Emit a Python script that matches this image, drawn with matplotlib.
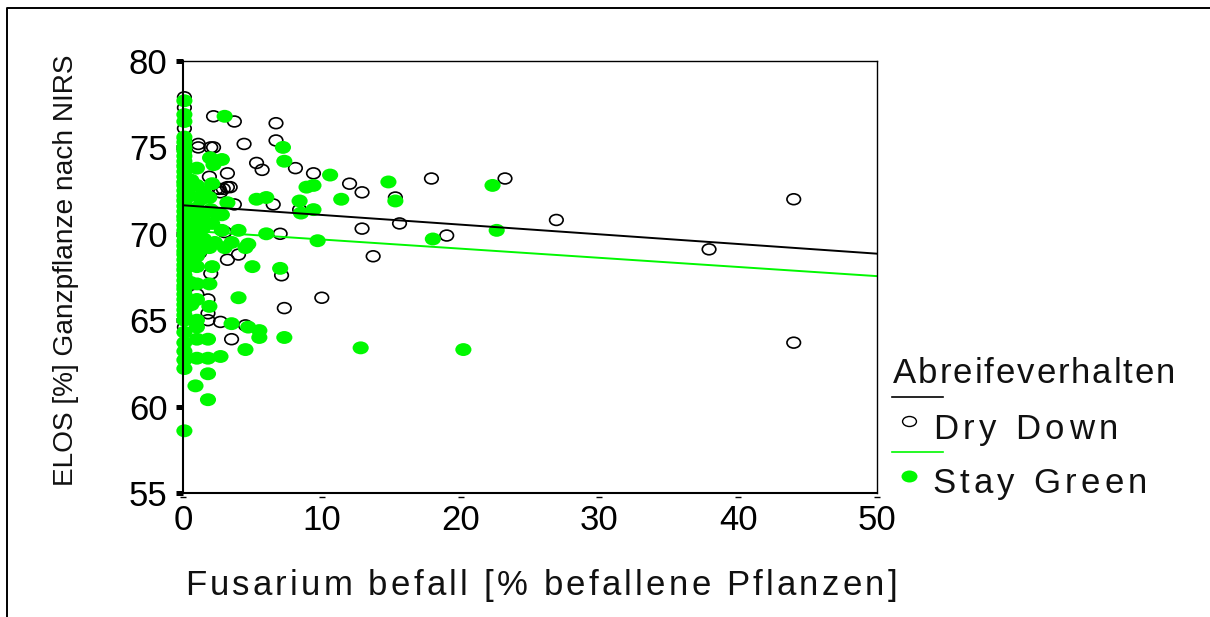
import matplotlib
matplotlib.use("Agg")
import matplotlib.pyplot as plt
from matplotlib.lines import Line2D
from matplotlib.markers import MarkerStyle
from matplotlib.path import Path
from matplotlib.text import Text
from matplotlib.transforms import Affine2D, ScaledTranslation

dry_x = [44.0, 44.0, 37.9, 26.9, 23.2, 19.0, 17.9, 15.6, 15.3, 13.7,
         12.9, 12.9, 12.0, 10.0, 9.4, 8.1, 8.4, 6.7, 6.7, 7.1,
         7.3, 6.5, 5.7, 5.3, 4.4, 3.7, 4.0, 3.5, 3.2, 3.4,
         3.2, 2.9, 2.6, 2.2, 2.2, 2.0, 1.1, 1.1, 3.7, 1.9,
         3.0, 7.0, 3.2, 2.7, 1.8, 1.8, 1.8, 4.5, 1.0, 2.0,
         1.2, 0.5, 2.4, 2.7]
dry_y = [72.0, 63.7, 69.1, 70.8, 73.2, 69.9, 73.2, 70.6, 72.1, 68.7,
         72.4, 70.3, 72.9, 66.3, 73.5, 73.8, 71.4, 76.4, 75.4, 67.6,
         65.7, 71.7, 73.7, 74.1, 75.2, 76.5, 68.8, 63.9, 73.5, 72.7,
         72.7, 72.6, 72.6, 76.8, 75.0, 75.0, 75.2, 75.0, 71.7, 73.3,
         70.1, 70.0, 68.5, 64.9, 66.2, 65.4, 65.0, 64.7, 66.5, 67.7,
         68.9, 71.0, 72.6, 72.4]
dry_column_y = [77.9, 77.3, 76.1, 75.5, 74.8, 74.0, 73.0, 72.0, 71.0, 69.5, 68.0, 64.6]

green_x = [22.3, 22.6, 20.2, 18.0, 15.3, 14.8, 12.8, 11.4, 10.6, 9.7,
           9.4, 9.4, 8.9, 8.5, 8.4, 7.3, 7.2, 7.0, 7.3, 6.0,
           6.0, 5.3, 5.5, 5.5, 4.5, 4.7, 5.0, 4.7, 4.5, 4.0,
           4.0, 3.5, 3.0, 2.8, 1.95, 2.2, 1.0, 2.1, 1.0, 1.9,
           3.2, 2.8, 2.1, 3.5, 3.0, 2.3, 2.1, 1.0, 1.0, 1.9,
           1.0, 1.9, 1.0, 1.0, 1.0, 1.8, 1.0, 1.8, 2.7, 1.8,
           0.9, 1.8, 1.0, 1.0, 1.0, 1.4, 1.4, 1.5, 1.2, 2.0,
           1.5, 2.4, 2.8, 1.0, 1.0, 1.9, 0.5, 0.5, 0.5, 0.5,
           0.5, 0.5, 0.6, 0.6, 1.3, 0.7]
green_y = [72.8, 70.2, 63.3, 69.7, 71.9, 73.0, 63.4, 72.0, 73.4, 69.6,
           71.4, 72.8, 72.7, 71.2, 71.9, 74.2, 75.0, 68.0, 64.0, 70.0,
           72.1, 72.0, 64.4, 64.0, 63.3, 64.6, 68.1, 69.4, 69.2, 70.2,
           66.3, 64.8, 76.8, 74.3, 74.4, 74.0, 73.8, 72.9, 72.8, 72.1,
           71.8, 71.1, 70.6, 69.5, 69.2, 69.5, 68.1, 68.1, 67.1, 67.1,
           66.2, 65.8, 64.6, 63.9, 62.8, 63.9, 69.3, 62.8, 62.9, 61.9,
           61.2, 60.4, 70.0, 70.7, 71.5, 70.3, 71.0, 69.7, 69.0, 71.4,
           72.4, 71.2, 70.2, 68.7, 65.0, 69.2, 70.2, 71.1, 69.4, 68.3,
           72.2, 67.2, 73.1, 65.9, 72.0, 70.6]
green_column_y = [58.6, 62.2, 62.7, 63.2, 63.7, 64.3, 65.0, 65.3, 65.6, 65.9, 66.2, 66.5,
                  66.8, 67.0, 67.3, 67.6, 67.9, 68.2, 68.5, 68.8, 69.0, 69.3, 69.6, 69.9,
                  70.2, 70.5, 70.8, 71.0, 71.3, 71.6, 71.9, 72.2, 72.5, 72.8, 73.0, 73.3,
                  73.6, 73.9, 74.2, 74.5, 74.8, 75.0, 75.3, 75.6, 76.5, 76.9, 77.7]
column_x = 0.1

line_x = [0, 50]
dry_line = [71.65, 68.85]
green_line = [70.2, 67.55]

x_ticks = [0, 10, 20, 30, 40, 50]
y_ticks = [55, 60, 65, 70, 75, 80]
x_label = "Fusarium befall [% befallene Pflanzen]"
y_label = "ELOS [%] Ganzpflanze nach NIRS"
legend_title = "Abreifeverhalten"
series_names = ["Dry Down", "Stay Green"]

GREEN = "#00F800"
W, H = 1210, 617
plt.rcParams["font.family"] = ["Liberation Sans"]
fig = plt.figure(figsize=(W / 100, H / 100), dpi=100)


class TrackedText(Text):
    """One real text whose glyphs are spread to fill a given pixel width."""

    def __init__(self, *args, target_width=None, **kwargs):
        super().__init__(*args, **kwargs)
        self.target_width = target_width

    def draw(self, renderer):
        text = self.get_text()
        fp = self.get_fontproperties()
        adv = lambda s: renderer.get_text_width_height_descent(s, fp, False)[0]
        gap = (self.target_width - adv(text)) / (len(text) - 1)
        x0, y0 = self.get_transform().transform(self.get_position())
        if renderer.flipy():
            y0 = renderer.get_canvas_width_height()[1] - y0
        gc = renderer.new_gc()
        gc.set_foreground(self.get_color())
        gc.set_antialiased(True)
        for i, ch in enumerate(text):
            if ch != " ":
                x = x0 + adv(text[:i + 1]) - adv(ch) + gap * i
                renderer.draw_text(gc, x, y0, ch, fp, 0, False)
        gc.restore()
        self.stale = False


def tracked(x_px, base_px, s, width_px):
    t = TrackedText(x_px / W, 1 - base_px / H, s, target_width=width_px, fontsize=25,
                    color="#111111", transform=fig.transFigure, figure=fig)
    fig.add_artist(t)
    return t


def ellipse(ratio):
    return MarkerStyle(Path.unit_circle().transformed(Affine2D().scale(1, ratio)))


fig.add_artist(Line2D([7/W, 7/W, 1], [0, 1-8/H, 1-8/H], color="black", lw=1.4))

ax = fig.add_axes([183/W, 1-493/H, (877-183)/W, (493-61)/H])
ax.set_xlim(0, 50)
ax.set_ylim(55, 80)
for s in ("top", "right"):
    ax.spines[s].set_linewidth(1.0)
for s in ("left", "bottom"):
    ax.spines[s].set_linewidth(1.5)
for s in ax.spines.values():
    s.set_zorder(6)

ax.scatter(dry_x + [column_x] * len(dry_column_y), dry_y + dry_column_y, s=95,
           marker=ellipse(0.8), facecolors="none", edgecolors="black",
           linewidths=1.2, clip_on=False, zorder=3)
ax.scatter(green_x + [column_x] * len(green_column_y), green_y + green_column_y, s=135,
           marker=ellipse(0.8), facecolors=GREEN, edgecolors="none",
           clip_on=False, zorder=4)
ax.plot(line_x, dry_line, color="black", lw=1.4, zorder=5)
ax.plot(line_x, green_line, color=GREEN, lw=1.4, zorder=5)

ax.set_xticks(x_ticks)
ax.set_yticks(y_ticks)
ax.tick_params(axis="x", length=0, labelsize=25, pad=8)
ax.tick_params(axis="y", length=5, width=3.6, labelsize=25, pad=6)
offset = ax.transData + ScaledTranslation(0, -3/72, fig.dpi_scale_trans)
ax.plot(x_ticks, [55] * len(x_ticks), ls="none", marker="_", ms=5, mew=1.0, color="black",
        transform=offset, clip_on=False)

tracked(185, 595, x_label, 712)
fig.text(66.5/W, 1-270/H, y_label, rotation=90, ha="center", va="center", fontsize=20.2, color="#111111")

tracked(893, 383, legend_title, 282)
tracked(933, 439, series_names[0], 185)
tracked(932, 493, series_names[1], 215)
fig.add_artist(Line2D([892/W, 943/W], [1-397/H]*2, color="black", lw=1.2))
fig.add_artist(Line2D([892/W, 943/W], [1-452/H]*2, color=GREEN, lw=1.2))
fig.add_artist(Line2D([909.5/W], [1-421/H], marker=ellipse(0.72), ms=10, mfc="none", mec="black", mew=1.0, ls="none"))
fig.add_artist(Line2D([909.5/W], [1-476/H], marker=ellipse(0.75), ms=11.5, mfc=GREEN, mec="none", ls="none"))

fig.savefig("out.png", dpi=100)
